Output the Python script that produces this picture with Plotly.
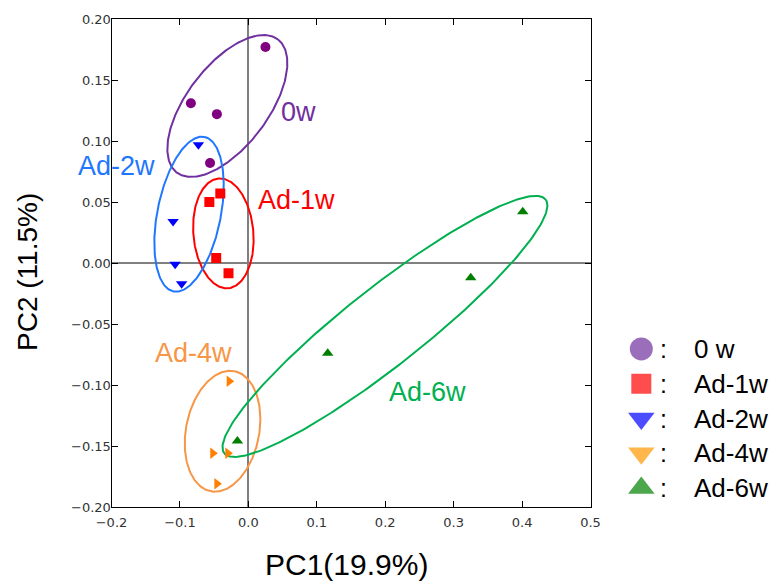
import numpy as np
import plotly.graph_objects as go

# page body adds an 8px margin, so the figure is drawn 8px smaller and positions shifted
OFF = 8
FW, FH = 779 - OFF, 585 - OFF


def fx(p):
    return (p - OFF) / FW


def fy(p):
    return 1 - (p - OFF) / FH


# ---------------- data ----------------
groups = ["0w", "Ad-1w", "Ad-2w", "Ad-4w", "Ad-6w"]
x_0w = [0.025, -0.084, -0.046, -0.056]
y_0w = [0.177, 0.131, 0.122, 0.082]
x_1w = [-0.041, -0.057, -0.047, -0.029]
y_1w = [0.057, 0.050, 0.004, -0.0085]
x_2w = [-0.073, -0.110, -0.107, -0.0975]
y_2w = [0.097, 0.034, -0.001, -0.017]
x_4w = [-0.028, -0.052, -0.030, -0.046]
y_4w = [-0.097, -0.156, -0.156, -0.181]
x_6w = [-0.016, 0.116, 0.325, 0.401]
y_6w = [-0.146, -0.074, -0.012, 0.042]

# ellipse parameters: centre (data), semi-axes (screen px), angle (deg)
ell_cx = [-0.0307, -0.0365, -0.0867, -0.0377, 0.1996]
ell_cy = [0.1287, 0.0243, 0.0400, -0.1379, -0.0520]
ell_a = [83.6, 55.1, 78.8, 61.2, 204.7]
ell_b = [40.6, 30.0, 31.7, 36.6, 39.0]
ell_ang = [52.8, 95.0, 78.7, 78.8, 38.3]

# group labels inside plot
lab_text = ["0w", "Ad-1w", "Ad-2w", "Ad-4w", "Ad-6w"]
lab_x = [0.0731, 0.0702, -0.193, -0.0804, 0.2617]
lab_y = [0.1238, 0.0516, 0.0795, -0.0738, -0.1057]

# legend
leg_text = ["0 w", "Ad-1w", "Ad-2w", "Ad-4w", "Ad-6w"]

x_ticks = [-0.2, -0.1, 0.0, 0.1, 0.2, 0.3, 0.4, 0.5]
x_ticklabels = ["\u22120.2", "\u22120.1", "0.0", "0.1", "0.2", "0.3", "0.4", "0.5"]
y_ticks = [-0.20, -0.15, -0.10, -0.05, 0.00, 0.05, 0.10, 0.15, 0.20]
y_ticklabels = ["\u22120.20", "\u22120.15", "\u22120.10", "\u22120.05", "0.00",
                "0.05", "0.10", "0.15", "0.20"]

# ---------------- styles ----------------
mk_colors = ["#800080", "#FF0000", "#0000FF", "#FF7F00", "#007F00"]
mk_symbols = ["circle", "square", "triangle-down", "triangle-right", "triangle-up"]
mk_sizes = [10, 10, 10, 10, 10]
ell_colors = ["#7030A0", "#FF0000", "#1F77FF", "#F79646", "#00B050"]
lab_colors = ["#7030A0", "#FF0000", "#1F77FF", "#F79646", "#00B050"]
leg_colors = ["#7030A0", "#FF0000", "#0000FF", "#FF9900", "#008000"]
leg_symbols = ["circle", "square", "triangle-down", "triangle-down", "triangle-up"]
leg_sizes = [23, 20, 23, 23, 23]

xr = [-0.2, 0.5]
yr = [-0.2, 0.2]
# plot area in target-picture pixels
px_l, px_r, px_t, px_b = 111.5, 590.5, 19, 507
kx = (px_r - px_l) / (xr[1] - xr[0])
ky = (px_b - px_t) / (yr[1] - yr[0])

fig = go.Figure()

xs = [x_0w, x_1w, x_2w, x_4w, x_6w]
ys = [y_0w, y_1w, y_2w, y_4w, y_6w]

# ellipses
t = np.linspace(0, 2 * np.pi, 300)
for i in range(5):
    th = np.deg2rad(ell_ang[i])
    dx = ell_a[i] * np.cos(t) * np.cos(th) - ell_b[i] * np.sin(t) * np.sin(th)
    dy = ell_a[i] * np.cos(t) * np.sin(th) + ell_b[i] * np.sin(t) * np.cos(th)
    fig.add_trace(go.Scatter(x=ell_cx[i] + dx / kx, y=ell_cy[i] + dy / ky,
                             mode="lines", line=dict(color=ell_colors[i], width=2),
                             hoverinfo="skip", showlegend=False))

# points
for i in range(5):
    fig.add_trace(go.Scatter(x=xs[i], y=ys[i], mode="markers", name=groups[i],
                             marker=dict(color=mk_colors[i], symbol=mk_symbols[i],
                                         size=mk_sizes[i], line=dict(width=0)),
                             showlegend=False))

# custom legend on secondary axes
fig.add_trace(go.Scatter(x=[0] * 5, y=list(range(5)), mode="markers",
                         xaxis="x2", yaxis="y2", showlegend=False, hoverinfo="skip",
                         marker=dict(color=leg_colors, symbol=leg_symbols,
                                     size=leg_sizes, line=dict(width=0))))

ann = []
for i in range(5):
    ann.append(dict(x=lab_x[i], y=lab_y[i], xref="x", yref="y", text=lab_text[i],
                    showarrow=False, font=dict(family="Liberation Sans, Arial", size=27,
                                               color=lab_colors[i]),
                    xanchor="center", yanchor="middle"))
for i in range(5):
    ann.append(dict(x=0.16, y=i, xref="x2", yref="y2", text=":", showarrow=False,
                    font=dict(family="Liberation Sans, Arial", size=25, color="black"),
                    xanchor="center", yanchor="middle"))
    ann.append(dict(x=0.37, y=i, xref="x2", yref="y2", text=leg_text[i], showarrow=False,
                    font=dict(family="Liberation Sans, Arial", size=26, color="black"),
                    xanchor="left", yanchor="middle"))
ann.append(dict(x=fx(346), y=fy(564), xref="paper", yref="paper", text="PC1(19.9%)",
                showarrow=False, font=dict(family="Liberation Sans, Arial", size=30, color="black"),
                xanchor="center", yanchor="middle"))
ann.append(dict(x=fx(27), y=fy(272), xref="paper", yref="paper", text="PC2 (11.5%)",
                showarrow=False, textangle=-90,
                font=dict(family="Liberation Sans, Arial", size=28, color="black"),
                xanchor="center", yanchor="middle"))

axis_common = dict(showgrid=False, ticks="inside", ticklen=6, tickwidth=1, tickcolor="black",
                   showline=True, linecolor="black", linewidth=1, mirror="allticks",
                   zeroline=True, zerolinecolor="#808080", zerolinewidth=2, automargin=False,
                   tickfont=dict(family="DejaVu Sans", size=13, color="#333333"))

fig.update_layout(
    width=FW, height=FH,
    margin=dict(l=0, r=0, t=0, b=0, pad=0, autoexpand=False),
    paper_bgcolor="white", plot_bgcolor="white",
    xaxis=dict(range=xr, domain=[fx(px_l), fx(px_r)], tickvals=x_ticks,
               ticktext=x_ticklabels, ticklabelstandoff=3, **axis_common),
    yaxis=dict(range=yr, domain=[fy(px_b), fy(px_t)], tickvals=y_ticks,
               ticktext=y_ticklabels, ticklabelstandoff=-3, **axis_common),
    xaxis2=dict(domain=[fx(600), 1.0], range=[-0.3, 1.0], visible=False, anchor="y2",
                fixedrange=True, automargin=False),
    yaxis2=dict(domain=[fy(505.4), fy(331.6)], range=[4.5, -0.5], visible=False,
                anchor="x2", fixedrange=True, automargin=False),
    annotations=ann,
    showlegend=False,
)

fig.write_html("out.html")
